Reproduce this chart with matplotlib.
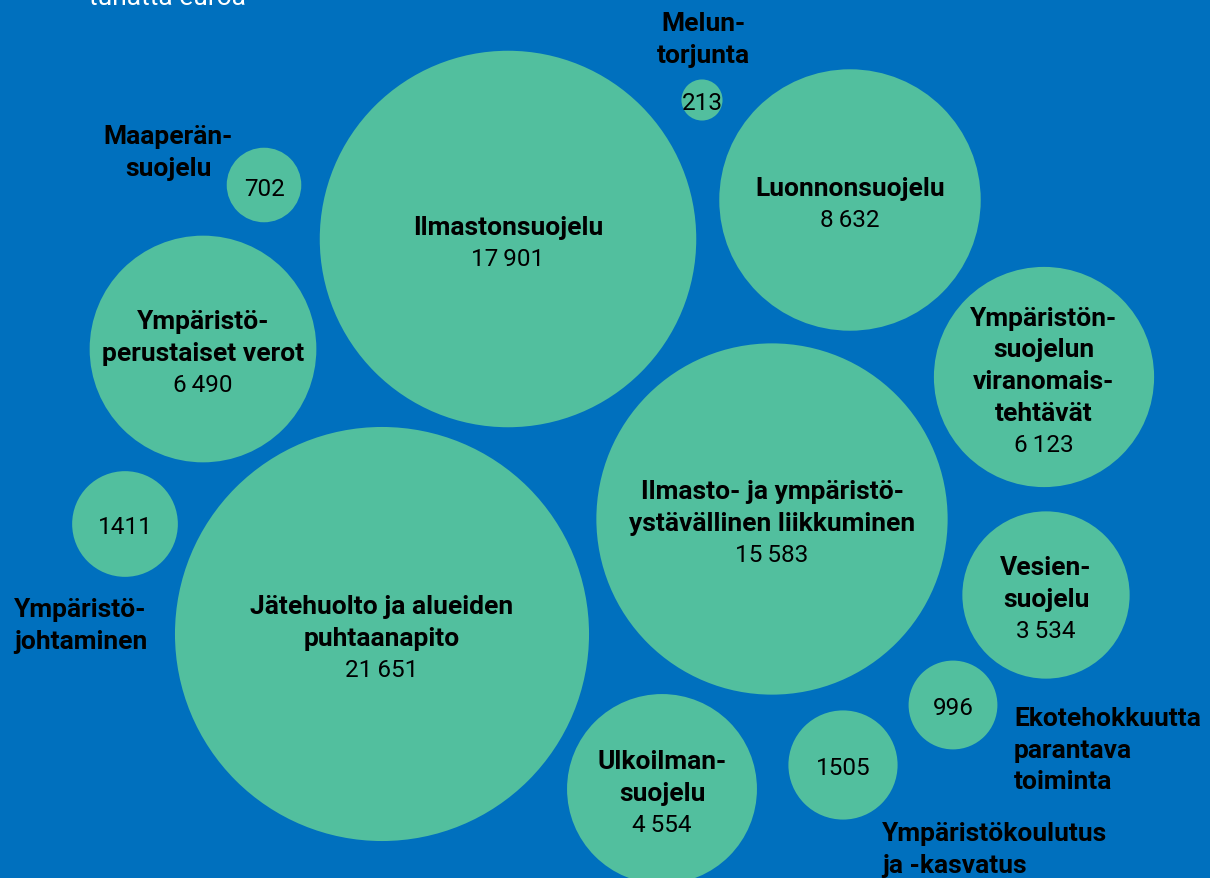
import numpy as np
import matplotlib.pyplot as plt

# arvot tuhatta euroa
values = [17901, 21651, 15583, 8632, 6490, 6123, 4554, 3534, 1505, 1411, 996, 702, 213]
value_labels = ['17\u2009901', '21\u2009651', '15\u2009583', '8\u2009632', '6\u2009490',
                '6\u2009123', '4\u2009554', '3\u2009534', '1505', '1411', '996', '702', '213']
# kuplien keskipisteet (pikseleinä, y alaspäin)
cx = [508, 382, 772, 850, 203, 1044, 662, 1046, 843, 125, 953, 264, 702]
cy = [240, 635, 520, 201, 350, 378, 790, 596, 766, 525, 706, 186, 101]

# nimet kuplan sisällä (None = nimi kuplan ulkopuolella)
inner_names = ['Ilmastonsuojelu', 'Jätehuolto ja alueiden\npuhtaanapito',
               'Ilmasto- ja ympäristö-\nystävällinen liikkuminen', 'Luonnonsuojelu',
               'Ympäristö-\nperustaiset verot',
               'Ympäristön-\nsuojelun\nviranomais-\ntehtävät',
               'Ulkoilman-\nsuojelu', 'Vesien-\nsuojelu',
               None, None, None, None, None]

# ulkopuoliset nimet: teksti, x, y, tasaus
outer_labels = [('Melun-\ntorjunta', 703, 24, 'center'),
                ('Maaperän-\nsuojelu', 168, 137, 'center'),
                ('Ympäristö-\njohtaminen', 14, 610, 'left'),
                ('Ekotehokkuutta\nparantava\ntoiminta', 1014, 719, 'left'),
                ('Ympäristökoulutus\nja -kasvatus', 882, 834, 'left')]

BLUE = '#0070be'
GREEN = '#52bf9e'
LINE = 31.7   # riviväli px
scale = 1.407  # r = scale * sqrt(arvo)

fig = plt.figure(figsize=(12.1, 8.79), dpi=100, facecolor=BLUE)
ax = fig.add_axes([0, 0, 1, 1])
ax.set_facecolor(BLUE)
ax.set_xlim(0, 1210)
ax.set_ylim(879, 0)
ax.set_aspect('equal')
ax.axis('off')

bold = dict(family=['Roboto', 'DejaVu Sans'], fontweight='bold', fontsize=19, color='black')
reg = dict(family=['Roboto', 'DejaVu Sans'], fontsize=17.5, color='black')

for v, lab, x, y, name in zip(values, value_labels, cx, cy, inner_names):
    r = scale * np.sqrt(v)
    ax.add_patch(plt.Circle((x, y), r, color=GREEN, lw=0))
    if name is None:
        ax.text(x, y + 3, lab, ha='center', va='center', **reg)
    else:
        lines = name.split('\n')
        n = len(lines) + 1
        y0 = y - (n - 1) / 2 * LINE + 4
        for i, ln in enumerate(lines):
            ax.text(x, y0 + i * LINE, ln, ha='center', va='center', **bold)
        ax.text(x, y0 + len(lines) * LINE, lab, ha='center', va='center', **reg)

for txt, x, y, ha in outer_labels:
    for i, ln in enumerate(txt.split('\n')):
        ax.text(x, y + i * LINE, ln, ha=ha, va='center', **bold)

ax.text(89, 5, 'tuhatta euroa', ha='left', va='baseline', color='white',
        family=['Roboto', 'DejaVu Sans'], fontsize=19)

fig.savefig('out.png', dpi=100, facecolor=BLUE)
